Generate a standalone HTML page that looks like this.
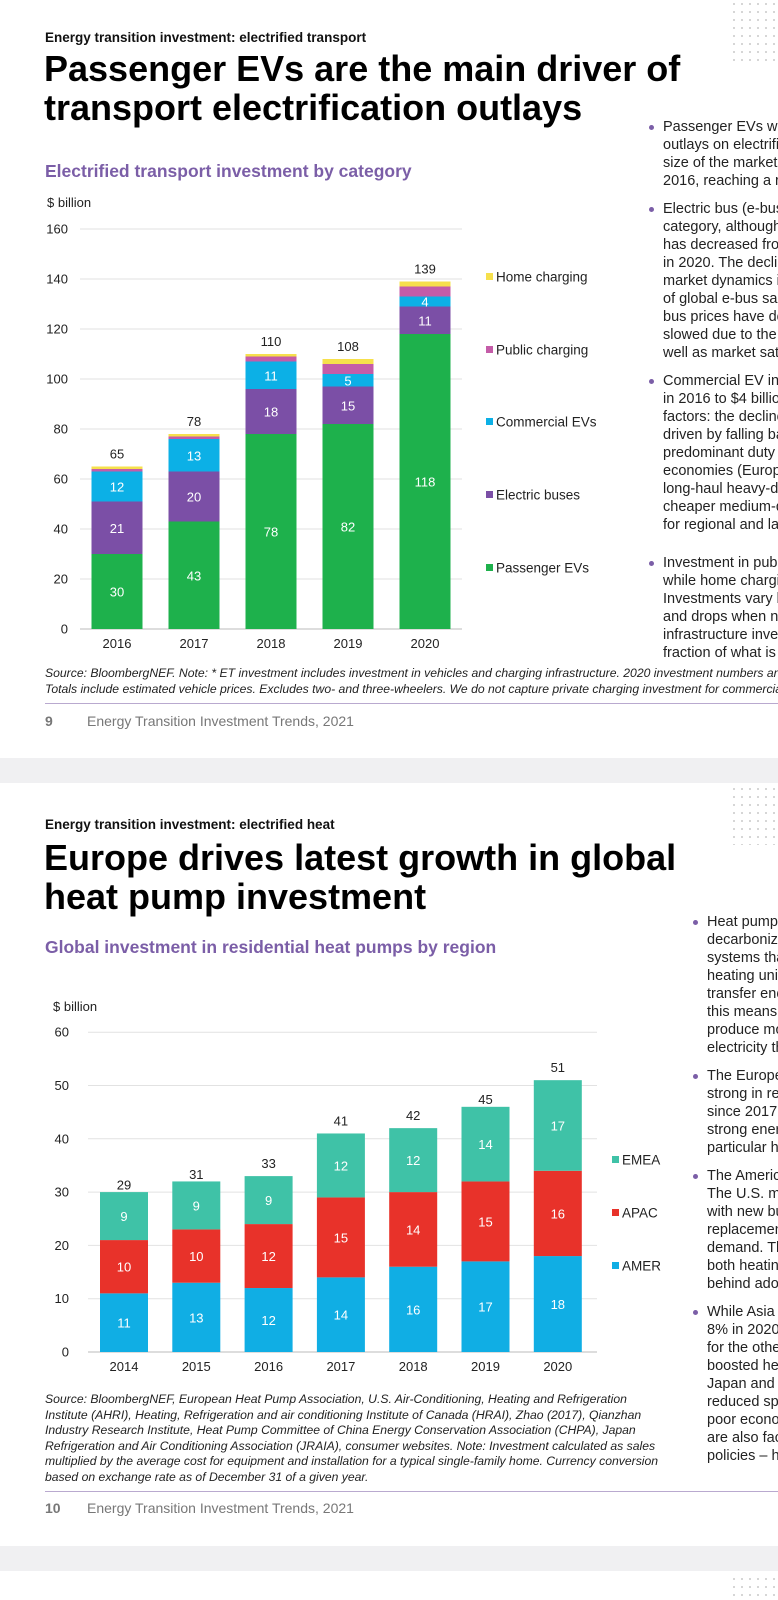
<!DOCTYPE html>
<html><head><meta charset="utf-8">
<style>
body{margin:0;width:778px;height:1600px;position:relative;overflow:hidden;background:#fff;font-family:"Liberation Sans",Arial,sans-serif;}
.abs{position:absolute;white-space:nowrap;}
.clip{position:absolute;overflow:hidden;}
.gray{position:absolute;left:0;width:778px;background:#f0f0f2;}
.hdr{font-size:13.5px;font-weight:bold;color:#111;}
.title{font-size:36px;font-weight:bold;color:#000;line-height:39px;}
.sub{font-size:17.5px;font-weight:bold;color:#7b5ea7;}
.bul{position:absolute;font-size:14.5px;color:#222;line-height:18px;white-space:nowrap;}
.bul .dot{position:absolute;left:-14px;top:7px;width:5px;height:5px;border-radius:50%;background:#7b5ea7;}
.src{font-size:12.2px;font-style:italic;color:#222;line-height:15.5px;}
.foot{font-size:14px;color:#777;}
.rule{position:absolute;left:45px;width:733px;height:1px;background:#b9a9cf;}
.dots{position:absolute;left:730px;width:48px;background-image:radial-gradient(#c8c8c8 0.8px,transparent 1px);background-size:8px 8px;}
</style></head><body>
<div class="gray" style="top:758px;height:25px"></div>
<div class="gray" style="top:1546px;height:25px"></div>
<div class="dots" style="top:0;height:62px"></div>
<div class="dots" style="top:785px;height:60px"></div>
<div class="dots" style="top:1575px;height:25px"></div>

<div class="abs hdr" style="left:45px;top:30px">Energy transition investment: electrified transport</div>
<div class="abs title" style="left:44px;top:49px">Passenger EVs are the main driver of<br>transport electrification outlays</div>
<div class="abs sub" style="left:45px;top:161px">Electrified transport investment by category</div>

<div class="clip" style="left:620px;top:100px;width:158px;height:580px">
<div class="bul" style="left:43px;top:18px"><span class="dot"></span>Passenger EVs were the largest<br>outlays on electrified transport<br>size of the market grew from<br>2016, reaching a record</div>
<div class="bul" style="left:43px;top:100px"><span class="dot"></span>Electric bus (e-bus) investment<br>category, although investment<br>has decreased from 2016<br>in 2020. The decline reflects<br>market dynamics in China<br>of global e-bus sales. E-<br>bus prices have declined<br>slowed due to the pandemic<br>well as market saturation</div>
<div class="bul" style="left:43px;top:272px"><span class="dot"></span>Commercial EV investment<br>in 2016 to $4 billion in 2020<br>factors: the decline in prices<br>driven by falling battery<br>predominant duty cycles<br>economies (Europe, U.S.)<br>long-haul heavy-duty<br>cheaper medium-duty<br>for regional and last-mile</div>
<div class="bul" style="left:43px;top:454px"><span class="dot"></span>Investment in public charging<br>while home charging<br>Investments vary by year<br>and drops when new<br>infrastructure investment<br>fraction of what is spent</div>
</div>

<svg id="c1" class="abs" style="left:0;top:0" width="620" height="660"></svg>

<div class="clip" style="left:0;top:660px;width:778px;height:40px">
<div class="abs src" style="left:45px;top:6px">Source: BloombergNEF. Note: * ET investment includes investment in vehicles and charging infrastructure. 2020 investment numbers are preliminary.<br>Totals include estimated vehicle prices. Excludes two- and three-wheelers. We do not capture private charging investment for commercial fleets.</div>
</div>
<div class="rule" style="top:703px"></div>
<div class="abs foot" style="left:45px;top:713px"><b>9</b><span style="position:absolute;left:42px">Energy Transition Investment Trends, 2021</span></div>

<div class="abs hdr" style="left:45px;top:817px">Energy transition investment: electrified heat</div>
<div class="abs title" style="left:44px;top:838px">Europe drives latest growth in global<br>heat pump investment</div>
<div class="abs sub" style="left:45px;top:937px">Global investment in residential heat pumps by region</div>

<div class="clip" style="left:670px;top:900px;width:108px;height:580px">
<div class="bul" style="left:37px;top:13px"><span class="dot"></span>Heat pumps<br>decarbonize<br>systems that<br>heating units<br>transfer energy<br>this means<br>produce more<br>electricity they</div>
<div class="bul" style="left:37px;top:167px"><span class="dot"></span>The Europe<br>strong in recent<br>since 2017<br>strong energy<br>particular heat</div>
<div class="bul" style="left:37px;top:267px"><span class="dot"></span>The Americas<br>The U.S. m<br>with new bui<br>replacement<br>demand. Th<br>both heating<br>behind adop</div>
<div class="bul" style="left:37px;top:403px"><span class="dot"></span>While Asia<br>8% in 2020<br>for the other<br>boosted hea<br>Japan and<br>reduced spe<br>poor econo<br>are also fac<br>policies – h</div>
</div>

<svg id="c2" class="abs" style="left:0;top:990px" width="670" height="390"></svg>

<div class="clip" style="left:0;top:1385px;width:690px;height:105px">
<div class="abs src" style="left:45px;top:7px">Source: BloombergNEF, European Heat Pump Association, U.S. Air-Conditioning, Heating and Refrigeration<br>Institute (AHRI), Heating, Refrigeration and air conditioning Institute of Canada (HRAI), Zhao (2017), Qianzhan<br>Industry Research Institute, Heat Pump Committee of China Energy Conservation Association (CHPA), Japan<br>Refrigeration and Air Conditioning Association (JRAIA), consumer websites. Note: Investment calculated as sales<br>multiplied by the average cost for equipment and installation for a typical single-family home. Currency conversion<br>based on exchange rate as of December 31 of a given year.</div>
</div>
<div class="rule" style="top:1491px"></div>
<div class="abs foot" style="left:45px;top:1500px"><b>10</b><span style="position:absolute;left:42px">Energy Transition Investment Trends, 2021</span></div>

<script>
// Chart 1 data
const years1 = ["2016","2017","2018","2019","2020"];
const passengerEVs = [30,43,78,82,118];
const electricBuses = [21,20,18,15,11];
const commercialEVs = [12,13,11,5,4];
const publicCharging = [1,1,2,4,4];
const homeCharging = [1,1,1,2,2];
const totals1 = [65,78,110,108,139];
const ticks1 = [0,20,40,60,80,100,120,140,160];
const seriesNames1 = ["Passenger EVs","Electric buses","Commercial EVs","Public charging","Home charging"];
// Chart 2 data
const years2 = ["2014","2015","2016","2017","2018","2019","2020"];
const amer = [11,13,12,14,16,17,18];
const apac = [10,10,12,15,14,15,16];
const emea = [9,9,9,12,12,14,17];
const totals2 = [29,31,33,41,42,45,51];
const ticks2 = [0,10,20,30,40,50,60];
const seriesNames2 = ["AMER","APAC","EMEA"];

const NS="http://www.w3.org/2000/svg";
function mk(svg,tag,attrs,text){const e=document.createElementNS(NS,tag);for(const k in attrs)e.setAttribute(k,attrs[k]);if(text!==undefined)e.textContent=text;svg.appendChild(e);return e;}

function drawChart(svg,o){
  const y=v=>o.y0-v*o.k;
  const x=i=>o.x0+i*o.step;
  o.ticks.forEach(t=>{
    const g=mk(svg,'line',{x1:o.gx1,x2:o.gx2,y1:y(t),y2:y(t),stroke:t===0?'#bbb':'#e2e2e2','stroke-width':1});
    
    
    const l=mk(svg,'text',{x:o.tx,y:y(t)+4.5,'font-size':13,fill:'#222','text-anchor':'end'},t);
    
    
  });
  const u=mk(svg,'text',{x:o.ux,y:o.uy,'font-size':13,fill:'#222'},'$ billion');
  
  
  o.cats.forEach((c,i)=>{
    let base=0;
    o.series.forEach((s,si)=>{
      const v=s[i];
      const r=mk(svg,'rect',{x:x(i)-o.bw/2,y:y(base+v),width:o.bw,height:v*o.k,fill:o.colors[si]});
      
      
      if(o.labelled[si]){
        const t=mk(svg,'text',{x:x(i),y:y(base+v/2)+5,'font-size':13,fill:'#fff','text-anchor':'middle'},v);
        
        
      }
      base+=v;
    });
    const tt=mk(svg,'text',{x:x(i),y:y(o.totals[i])-8,'font-size':13,fill:'#222','text-anchor':'middle'},o.totals[i]);
    
    
    const xl=mk(svg,'text',{x:x(i),y:o.y0+o.xlab,'font-size':13,fill:'#222','text-anchor':'middle'},c);
    
    
  });
  o.legend.forEach((lg)=>{
    const si=lg.s;
    const r=mk(svg,'rect',{x:o.lx,y:lg.y-4,width:7,height:7,fill:o.colors[si]});
    
    
    const t=mk(svg,'text',{x:o.lx+10,y:lg.y+4.5,'font-size':13.5,fill:'#222'},o.names[si]);
    
    
  });
}
drawChart(document.getElementById('c1'),{
  cats:years1,series:[passengerEVs,electricBuses,commercialEVs,publicCharging,homeCharging],
  names:seriesNames1,totals:totals1,ticks:ticks1,
  colors:['#1eb14c','#7b4fa6','#0cb0e6','#c45ca8','#f6e04c'],labelled:[1,1,1,0,0],
  y0:629,k:2.5,x0:117,step:77,bw:51,gx1:80,gx2:462,tx:68,ux:47,uy:207,xlab:19,
  lx:486,legend:[{s:4,y:277},{s:3,y:350},{s:2,y:422},{s:1,y:495},{s:0,y:568}]
});
drawChart(document.getElementById('c2'),{
  cats:years2,series:[amer,apac,emea],names:seriesNames2,totals:totals2,ticks:ticks2,
  colors:['#10aee4','#e8322a','#3fc2a7'],labelled:[1,1,1],
  y0:362,k:5.33,x0:124,step:72.3,bw:48,gx1:88,gx2:597,tx:69,ux:53,uy:21,xlab:19,
  lx:612,legend:[{s:2,y:170},{s:1,y:223},{s:0,y:276}]
});
</script>
</body></html>
